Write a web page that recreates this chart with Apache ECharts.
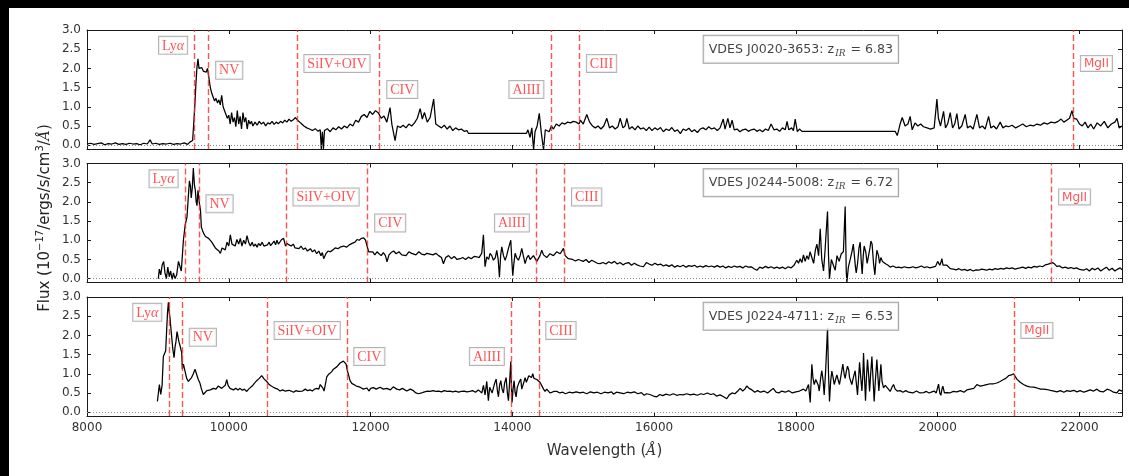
<!DOCTYPE html>
<html><head><meta charset="utf-8">
<script src="https://cdn.jsdelivr.net/npm/echarts@6/dist/echarts.min.js"></script>
<style>html,body{margin:0;padding:0;background:#fff;overflow:hidden;width:1129px;height:476px}#c{position:absolute;left:0;top:0;width:1129px;height:476px;background:#fff}</style>
</head><body><div id="c"></div><script>
// ---------------- DATA ----------------
const objectNames = ['VDES J0020-3653', 'VDES J0244-5008', 'VDES J0224-4711'];
const redshifts = [6.83, 6.72, 6.53];
const lineNames = ['Lyα', 'NV', 'SiIV+OIV', 'CIV', 'AlIII', 'CIII', 'MgII'];
const restWaves = [1215.67, 1240.81, 1399.8, 1549.06, 1857.4, 1908.73, 2798.75];
const xTicks = [8000, 10000, 12000, 14000, 16000, 18000, 20000, 22000];
const yTicks = [0, 0.5, 1.0, 1.5, 2.0, 2.5, 3.0];

// spectrum of VDES J0020-3653 [wavelength, flux]
const spec1 = [[8000,0.03],[8050,0.05],[8100,0.02],[8150,0.04],[8200,0.06],[8250,0.01],[8300,0.04],[8350,0.03],[8400,0.06],[8450,0.02],[8500,0.04],[8550,0.02],[8600,0.05],[8650,0.03],[8700,0.04],[8750,0.01],[8800,0.05],[8850,0.03],[8890,0.14],[8920,0.03],[8970,0.05],[9020,0.02],[9070,0.04],[9120,0.03],[9170,0.05],[9220,0.02],[9270,0.04],[9320,0.03],[9370,0.06],[9420,0.02],[9450,0.08],[9475,0.03],[9490,0.12],[9505,0.55],[9520,1.0],[9535,1.55],[9550,2.0],[9565,2.25],[9580,2.0],[9600,1.95],[9620,2.02],[9640,1.93],[9660,1.98],[9680,1.9],[9700,2.0],[9720,1.75],[9740,1.5],[9760,1.35],[9780,1.25],[9800,1.15],[9820,1.22],[9840,1.1],[9860,1.18],[9880,1.05],[9900,1.3],[9920,1.0],[9940,0.95],[9960,0.8],[9980,0.7],[10000,0.78],[10020,0.55],[10040,0.85],[10060,0.6],[10080,0.72],[10100,0.48],[10120,0.9],[10140,0.55],[10160,0.75],[10180,0.42],[10200,0.85],[10220,0.6],[10240,0.72],[10260,0.42],[10280,0.65],[10300,0.55],[10320,0.62],[10340,0.5],[10370,0.6],[10400,0.52],[10430,0.62],[10460,0.55],[10490,0.6],[10520,0.5],[10550,0.58],[10580,0.55],[10610,0.62],[10640,0.54],[10670,0.6],[10700,0.56],[10730,0.62],[10760,0.58],[10790,0.65],[10820,0.6],[10850,0.68],[10880,0.62],[10910,0.66],[10940,0.72],[10970,0.65],[11000,0.6],[11030,0.55],[11060,0.5],[11100,0.45],[11140,0.42],[11180,0.38],[11220,0.43],[11260,0.36],[11290,0.4],[11305,-0.1],[11320,0.35],[11335,-0.1],[11350,0.38],[11390,0.43],[11430,0.35],[11470,0.45],[11510,0.4],[11550,0.48],[11590,0.42],[11630,0.5],[11670,0.45],[11710,0.55],[11750,0.5],[11790,0.65],[11830,0.6],[11870,0.75],[11910,0.8],[11950,0.72],[11990,0.88],[12030,0.8],[12070,0.9],[12110,0.84],[12150,0.7],[12190,0.76],[12230,0.6],[12275,0.98],[12300,0.55],[12346,0.12],[12380,0.5],[12420,0.46],[12460,0.52],[12500,0.45],[12540,0.55],[12580,0.5],[12620,0.58],[12660,0.7],[12700,0.95],[12730,0.68],[12760,0.85],[12800,0.6],[12840,0.72],[12890,1.2],[12920,0.55],[12960,0.5],[13000,0.45],[13040,0.52],[13080,0.42],[13120,0.5],[13160,0.38],[13200,0.45],[13240,0.4],[13280,0.42],[13320,0.36],[13360,0.38],[13380,0.31],[14200,0.31],[14220,0.4],[14250,0.2],[14275,0.45],[14300,-0.12],[14320,0.35],[14350,0.5],[14380,0.83],[14410,0.3],[14440,-0.12],[14465,0.4],[14490,0.45],[14520,0.35],[14550,0.5],[14580,0.42],[14620,0.55],[14660,0.5],[14700,0.58],[14740,0.55],[14780,0.6],[14820,0.58],[14860,0.62],[14900,0.6],[14940,0.55],[14960,0.65],[15000,0.55],[15050,0.8],[15090,0.6],[15130,0.5],[15170,0.45],[15210,0.5],[15250,0.42],[15290,0.5],[15333,0.7],[15370,0.45],[15410,0.5],[15450,0.42],[15490,0.48],[15521,0.7],[15560,0.45],[15590,0.5],[15615,0.7],[15650,0.42],[15690,0.48],[15730,0.4],[15770,0.5],[15810,0.42],[15850,0.45],[15890,0.38],[15930,0.47],[15970,0.38],[16010,0.45],[16050,0.4],[16090,0.46],[16130,0.35],[16170,0.42],[16210,0.38],[16250,0.46],[16290,0.36],[16330,0.4],[16370,0.3],[16410,0.42],[16450,0.38],[16490,0.44],[16530,0.35],[16570,0.4],[16610,0.33],[16650,0.42],[16690,0.45],[16730,0.4],[16770,0.48],[16810,0.42],[16850,0.45],[16890,0.38],[16930,0.45],[16975,0.68],[17000,0.42],[17040,0.7],[17070,0.45],[17100,0.65],[17130,0.4],[17170,0.42],[17210,0.35],[17250,0.4],[17290,0.42],[17330,0.36],[17370,0.4],[17410,0.42],[17450,0.36],[17490,0.4],[17530,0.35],[17570,0.42],[17610,0.38],[17650,0.55],[17690,0.4],[17730,0.42],[17770,0.36],[17810,0.45],[17850,0.4],[17875,0.62],[17900,0.4],[17940,0.45],[17965,0.38],[17990,0.68],[18020,0.35],[18050,0.42],[18085,0.36],[19400,0.36],[19430,0.25],[19470,0.55],[19500,0.72],[19540,0.5],[19580,0.55],[19612,0.75],[19640,0.4],[19680,0.58],[19720,0.5],[19760,0.55],[19800,0.48],[19850,0.45],[19900,0.42],[19950,0.45],[19989,1.2],[20010,0.7],[20040,0.5],[20083,0.88],[20110,0.45],[20140,0.55],[20177,0.85],[20210,0.45],[20240,0.55],[20271,0.82],[20300,0.42],[20340,0.5],[20388,0.8],[20420,0.45],[20460,0.5],[20500,0.42],[20553,0.8],[20590,0.45],[20630,0.5],[20670,0.42],[20718,0.75],[20750,0.45],[20790,0.5],[20830,0.42],[20882,0.6],[20920,0.45],[20960,0.5],[21000,0.48],[21050,0.52],[21100,0.45],[21150,0.5],[21200,0.55],[21250,0.48],[21300,0.52],[21350,0.5],[21400,0.55],[21450,0.52],[21500,0.58],[21550,0.55],[21600,0.6],[21650,0.58],[21700,0.62],[21740,0.68],[21780,0.6],[21820,0.65],[21860,0.7],[21894,0.9],[21920,0.7],[21960,0.68],[22000,0.55],[22040,0.5],[22080,0.6],[22120,0.45],[22160,0.55],[22200,0.42],[22250,0.58],[22300,0.5],[22350,0.62],[22400,0.45],[22450,0.55],[22500,0.6],[22530,0.7],[22560,0.45],[22600,0.5]];

// spectrum of VDES J0244-5008
const spec2 = [[9006,0.0],[9020,0.25],[9040,0.1],[9060,0.35],[9081,0.45],[9100,0.15],[9120,0.0],[9140,0.3],[9160,0.05],[9180,0.2],[9200,-0.02],[9220,0.15],[9240,0.0],[9265,0.1],[9290,0.45],[9310,0.5],[9330,0.2],[9345,0.6],[9360,1.0],[9385,1.4],[9410,1.6],[9430,2.15],[9445,2.55],[9460,2.4],[9470,2.1],[9485,2.35],[9500,2.88],[9515,2.45],[9528,2.3],[9540,2.0],[9552,1.9],[9565,2.3],[9578,2.32],[9590,1.9],[9600,1.8],[9613,1.35],[9630,1.25],[9646,1.18],[9670,1.1],[9690,1.15],[9716,1.05],[9740,1.0],[9760,0.95],[9787,0.95],[9810,0.8],[9834,0.8],[9860,0.72],[9881,0.66],[9905,0.8],[9928,0.85],[9950,0.75],[9975,0.95],[10000,0.85],[10022,1.14],[10045,0.9],[10069,0.95],[10090,0.85],[10115,1.02],[10140,0.9],[10163,1.05],[10185,0.85],[10210,1.0],[10235,0.9],[10257,1.12],[10280,0.95],[10305,0.85],[10330,0.95],[10351,0.84],[10375,0.9],[10400,0.82],[10420,0.92],[10445,0.86],[10470,0.95],[10495,0.85],[10520,0.9],[10545,0.88],[10570,0.95],[10590,0.86],[10615,0.92],[10640,0.98],[10660,0.88],[10680,1.0],[10700,0.9],[10720,0.95],[10745,1.02],[10774,1.05],[10800,0.85],[10821,0.92],[10850,0.88],[10880,0.85],[10910,0.9],[10935,0.8],[10962,0.83],[10990,0.78],[11020,0.85],[11050,0.76],[11080,0.8],[11110,0.72],[11151,0.78],[11180,0.7],[11210,0.75],[11240,0.65],[11270,0.72],[11300,0.6],[11320,0.68],[11339,0.52],[11370,0.65],[11400,0.72],[11433,0.7],[11470,0.75],[11500,0.8],[11540,0.78],[11580,0.83],[11621,0.85],[11660,0.82],[11700,0.88],[11740,0.92],[11780,0.95],[11809,1.02],[11840,1.0],[11870,1.05],[11903,1.06],[11930,1.0],[11950,0.85],[11975,0.7],[11997,0.66],[12030,0.7],[12060,0.62],[12091,0.7],[12120,0.65],[12150,0.6],[12180,0.68],[12210,0.6],[12232,0.44],[12260,0.62],[12290,0.68],[12326,0.72],[12360,0.65],[12400,0.7],[12440,0.62],[12468,0.66],[12500,0.6],[12540,0.7],[12580,0.66],[12608,0.68],[12640,0.62],[12680,0.7],[12720,0.64],[12760,0.62],[12797,0.66],[12839,0.64],[12880,0.62],[12920,0.66],[12960,0.6],[13000,0.55],[13028,0.39],[13060,0.55],[13100,0.6],[13140,0.52],[13180,0.58],[13220,0.5],[13263,0.52],[13300,0.55],[13340,0.5],[13380,0.56],[13420,0.52],[13460,0.58],[13498,0.57],[13530,0.55],[13568,0.66],[13592,1.14],[13615,0.31],[13639,0.57],[13665,0.5],[13686,0.66],[13710,0.6],[13733,0.48],[13760,0.55],[13780,0.74],[13800,0.5],[13818,0.04],[13835,0.6],[13851,0.83],[13875,0.6],[13898,0.48],[13920,0.6],[13945,0.79],[13960,0.75],[13978,1.0],[13992,0.5],[14006,0.08],[14022,0.4],[14039,0.66],[14060,0.55],[14086,0.48],[14110,0.6],[14133,0.79],[14155,0.6],[14180,0.39],[14205,0.55],[14227,0.61],[14250,0.5],[14274,0.48],[14298,0.6],[14321,0.57],[14345,0.45],[14368,0.44],[14390,0.6],[14415,0.74],[14440,0.62],[14462,0.61],[14485,0.55],[14509,0.53],[14530,0.65],[14556,0.7],[14580,0.6],[14603,0.57],[14625,0.7],[14650,0.74],[14675,0.65],[14697,0.7],[14721,0.79],[14745,0.6],[14768,0.57],[14790,0.52],[14815,0.49],[14850,0.5],[14890,0.46],[14930,0.5],[14960,0.48],[15000,0.45],[15040,0.5],[15080,0.42],[15120,0.48],[15160,0.44],[15200,0.4],[15238,0.39],[15280,0.42],[15320,0.38],[15360,0.44],[15400,0.4],[15440,0.45],[15480,0.38],[15520,0.42],[15560,0.36],[15600,0.4],[15640,0.42],[15680,0.35],[15720,0.4],[15760,0.36],[15800,0.33],[15849,0.31],[15890,0.42],[15930,0.38],[15970,0.35],[16010,0.4],[16050,0.36],[16090,0.38],[16130,0.33],[16170,0.36],[16210,0.32],[16250,0.36],[16290,0.3],[16330,0.34],[16367,0.31],[16410,0.35],[16450,0.3],[16490,0.34],[16530,0.32],[16570,0.35],[16610,0.3],[16650,0.33],[16690,0.3],[16730,0.34],[16770,0.31],[16810,0.33],[16850,0.3],[16890,0.34],[16930,0.3],[16970,0.33],[17010,0.28],[17050,0.32],[17090,0.29],[17130,0.33],[17170,0.3],[17210,0.32],[17250,0.28],[17290,0.33],[17330,0.3],[17370,0.31],[17410,0.26],[17450,0.22],[17490,0.3],[17530,0.27],[17570,0.32],[17610,0.28],[17650,0.31],[17690,0.27],[17730,0.3],[17770,0.27],[17810,0.3],[17850,0.26],[17890,0.31],[17930,0.28],[17970,0.34],[18013,0.48],[18037,0.4],[18060,0.52],[18084,0.42],[18107,0.62],[18130,0.45],[18155,0.6],[18178,0.5],[18200,0.7],[18225,0.66],[18250,0.4],[18275,0.75],[18296,0.9],[18320,0.6],[18343,1.3],[18365,0.5],[18390,0.2],[18410,0.7],[18430,1.3],[18446,1.75],[18460,0.6],[18474,0.0],[18500,0.5],[18525,0.55],[18554,0.22],[18580,0.6],[18610,0.45],[18640,0.65],[18670,0.7],[18695,1.88],[18710,0.2],[18719,-0.1],[18740,0.3],[18766,0.5],[18790,0.7],[18810,0.9],[18822,0.85],[18840,0.3],[18851,0.15],[18870,0.4],[18890,0.8],[18907,0.95],[18920,0.5],[18935,0.12],[18950,0.6],[18963,0.85],[18985,0.7],[19005,0.4],[19025,0.35],[19045,0.8],[19058,0.98],[19075,0.9],[19095,0.4],[19114,0.1],[19130,0.5],[19142,0.74],[19165,0.6],[19180,0.4],[19199,0.55],[19220,0.45],[19245,0.48],[19270,0.38],[19300,0.35],[19330,0.3],[19370,0.33],[19410,0.29],[19450,0.3],[19490,0.28],[19530,0.31],[19570,0.29],[19612,0.29],[19650,0.31],[19690,0.28],[19730,0.3],[19770,0.33],[19810,0.29],[19850,0.31],[19890,0.28],[19930,0.3],[19970,0.32],[20000,0.45],[20012,0.48],[20030,0.35],[20045,0.42],[20059,0.52],[20075,0.35],[20100,0.32],[20130,0.35],[20177,0.26],[20220,0.25],[20260,0.23],[20300,0.26],[20340,0.22],[20380,0.24],[20420,0.21],[20460,0.24],[20500,0.2],[20540,0.23],[20580,0.22],[20620,0.25],[20647,0.23],[20690,0.22],[20730,0.25],[20770,0.23],[20810,0.26],[20850,0.24],[20890,0.27],[20930,0.25],[20970,0.28],[21010,0.26],[21050,0.28],[21090,0.25],[21117,0.3],[21160,0.28],[21200,0.3],[21240,0.27],[21280,0.3],[21320,0.28],[21360,0.32],[21400,0.3],[21440,0.33],[21480,0.31],[21520,0.36],[21560,0.38],[21588,0.39],[21620,0.42],[21650,0.38],[21680,0.32],[21720,0.33],[21760,0.28],[21800,0.3],[21840,0.27],[21880,0.29],[21920,0.26],[21960,0.28],[22000,0.24],[22058,0.22],[22100,0.26],[22140,0.2],[22180,0.27],[22220,0.23],[22260,0.28],[22300,0.2],[22340,0.25],[22380,0.3],[22420,0.22],[22460,0.27],[22500,0.2],[22540,0.25],[22575,0.28],[22600,0.23]];

// spectrum of VDES J0224-4711
const spec3 = [[8993,0.28],[9007,0.5],[9021,0.72],[9040,0.46],[9059,0.7],[9077,1.45],[9095,1.5],[9110,1.6],[9124,2.15],[9136,2.6],[9148,2.86],[9160,2.6],[9171,2.45],[9183,2.2],[9195,1.95],[9210,1.65],[9228,1.42],[9242,1.7],[9256,1.85],[9270,2.1],[9280,2.05],[9295,1.85],[9310,1.75],[9322,1.78],[9336,1.55],[9345,1.12],[9360,1.25],[9383,1.2],[9406,0.88],[9430,0.8],[9453,0.75],[9475,0.9],[9500,1.0],[9524,1.12],[9547,0.98],[9570,0.85],[9594,0.75],[9615,0.6],[9641,0.46],[9665,0.5],[9690,0.56],[9712,0.6],[9740,0.58],[9783,0.62],[9820,0.6],[9850,0.68],[9877,0.72],[9900,0.62],[9924,0.65],[9950,0.7],[9971,0.85],[9990,0.7],[10018,0.62],[10040,0.66],[10065,0.58],[10100,0.62],[10130,0.58],[10159,0.62],[10190,0.57],[10220,0.6],[10253,0.54],[10280,0.6],[10300,0.64],[10330,0.68],[10360,0.75],[10394,0.82],[10430,0.88],[10465,0.95],[10500,0.86],[10535,0.8],[10570,0.72],[10600,0.68],[10629,0.65],[10660,0.62],[10690,0.6],[10723,0.55],[10760,0.58],[10790,0.55],[10817,0.6],[10850,0.57],[10880,0.55],[10912,0.52],[10950,0.56],[10980,0.54],[11006,0.58],[11040,0.55],[11080,0.6],[11110,0.56],[11147,0.58],[11180,0.55],[11210,0.6],[11241,0.62],[11270,0.6],[11290,0.72],[11311,0.7],[11330,0.62],[11344,0.55],[11360,0.7],[11382,0.92],[11405,0.98],[11429,1.0],[11450,1.05],[11476,1.12],[11500,1.1],[11523,1.18],[11545,1.15],[11570,1.28],[11595,1.25],[11617,1.33],[11640,1.3],[11655,1.25],[11670,1.1],[11688,0.98],[11711,0.82],[11735,0.75],[11758,0.72],[11800,0.68],[11852,0.65],[11900,0.6],[11946,0.63],[11980,0.55],[12000,0.62],[12040,0.64],[12080,0.6],[12134,0.65],[12180,0.6],[12228,0.62],[12280,0.58],[12320,0.66],[12369,0.6],[12410,0.58],[12450,0.62],[12510,0.55],[12560,0.6],[12604,0.56],[12640,0.5],[12675,0.48],[12698,0.43],[12720,0.5],[12750,0.52],[12800,0.55],[12840,0.54],[12880,0.56],[12920,0.54],[12960,0.55],[13000,0.53],[13040,0.56],[13080,0.54],[13120,0.55],[13160,0.53],[13200,0.55],[13240,0.52],[13280,0.54],[13320,0.55],[13360,0.53],[13400,0.54],[13440,0.56],[13480,0.52],[13520,0.58],[13545,0.6],[13570,0.5],[13592,0.7],[13615,0.45],[13639,0.8],[13662,0.3],[13680,0.65],[13695,0.7],[13715,0.5],[13733,0.52],[13750,0.75],[13771,0.86],[13790,0.55],[13804,0.4],[13820,0.7],[13837,0.82],[13855,0.6],[13874,0.5],[13890,0.75],[13912,0.9],[13930,0.5],[13945,0.3],[13962,0.8],[13978,1.32],[13988,0.6],[13996,0.25],[14010,0.6],[14025,0.82],[14040,0.5],[14053,0.4],[14070,0.65],[14086,0.73],[14100,0.8],[14119,0.86],[14133,0.6],[14147,0.55],[14165,0.8],[14180,0.9],[14198,0.78],[14213,0.8],[14232,0.95],[14250,0.95],[14270,0.9],[14288,1.0],[14305,0.88],[14321,0.92],[14345,0.85],[14368,0.82],[14390,0.78],[14415,0.73],[14440,0.6],[14462,0.54],[14485,0.6],[14509,0.64],[14530,0.5],[14556,0.45],[14590,0.54],[14627,0.54],[14670,0.5],[14710,0.52],[14750,0.48],[14800,0.52],[14850,0.5],[14900,0.53],[14956,0.5],[15000,0.52],[15050,0.48],[15100,0.53],[15150,0.5],[15200,0.52],[15250,0.48],[15300,0.52],[15350,0.5],[15400,0.53],[15426,0.47],[15470,0.52],[15520,0.5],[15570,0.48],[15620,0.52],[15670,0.5],[15720,0.53],[15770,0.48],[15820,0.51],[15860,0.44],[15896,0.48],[15940,0.46],[15990,0.42],[16037,0.4],[16080,0.46],[16120,0.43],[16170,0.47],[16220,0.44],[16270,0.48],[16320,0.44],[16367,0.46],[16410,0.45],[16460,0.48],[16510,0.45],[16560,0.47],[16610,0.44],[16660,0.48],[16700,0.46],[16750,0.5],[16800,0.46],[16837,0.48],[16880,0.42],[16930,0.45],[16980,0.4],[17025,0.35],[17060,0.45],[17100,0.5],[17140,0.48],[17180,0.55],[17213,0.62],[17250,0.55],[17280,0.6],[17307,0.68],[17340,0.62],[17380,0.58],[17420,0.52],[17460,0.56],[17500,0.52],[17550,0.55],[17600,0.5],[17640,0.56],[17680,0.62],[17720,0.52],[17760,0.5],[17800,0.55],[17850,0.52],[17900,0.56],[17950,0.5],[18000,0.53],[18050,0.55],[18107,0.6],[18140,0.55],[18178,0.72],[18202,0.25],[18225,1.25],[18240,0.9],[18258,0.72],[18280,0.85],[18296,0.9],[18315,0.7],[18329,0.55],[18350,0.9],[18366,1.08],[18385,0.8],[18399,0.45],[18420,1.1],[18446,2.2],[18460,1.0],[18474,0.28],[18490,0.8],[18507,1.07],[18525,0.9],[18540,0.72],[18560,0.85],[18578,0.97],[18595,0.85],[18615,0.72],[18640,1.0],[18662,1.25],[18680,1.0],[18695,0.88],[18710,1.05],[18728,1.2],[18745,1.1],[18757,0.9],[18775,0.8],[18789,0.72],[18810,0.9],[18836,1.08],[18850,0.8],[18869,0.45],[18885,0.9],[18898,1.3],[18915,0.9],[18931,0.55],[18945,1.0],[18954,1.54],[18970,0.8],[18982,0.3],[18995,0.9],[19010,1.37],[19025,1.0],[19039,0.54],[19055,1.0],[19072,1.45],[19090,0.8],[19104,0.28],[19120,0.8],[19142,1.37],[19158,0.9],[19170,0.55],[19185,0.9],[19199,1.25],[19215,0.8],[19236,0.63],[19260,0.7],[19283,0.72],[19305,0.6],[19330,0.54],[19355,0.65],[19377,0.72],[19400,0.6],[19430,0.55],[19471,0.56],[19510,0.52],[19550,0.56],[19590,0.52],[19612,0.54],[19650,0.5],[19700,0.55],[19750,0.5],[19801,0.51],[19840,0.54],[19880,0.5],[19918,0.53],[19950,0.55],[19980,0.5],[20012,0.73],[20030,0.5],[20045,0.44],[20060,0.6],[20073,0.68],[20095,0.5],[20130,0.51],[20170,0.5],[20220,0.54],[20271,0.53],[20320,0.56],[20370,0.52],[20412,0.58],[20460,0.6],[20510,0.62],[20553,0.72],[20600,0.68],[20647,0.7],[20690,0.72],[20741,0.74],[20790,0.74],[20835,0.76],[20880,0.8],[20929,0.85],[20960,0.88],[21000,0.95],[21040,0.97],[21070,1.0],[21095,0.95],[21117,0.86],[21140,0.82],[21164,0.78],[21210,0.72],[21259,0.68],[21300,0.66],[21350,0.65],[21400,0.63],[21450,0.6],[21500,0.6],[21541,0.59],[21590,0.57],[21640,0.55],[21682,0.53],[21730,0.56],[21780,0.52],[21823,0.56],[21870,0.54],[21920,0.57],[21964,0.53],[22010,0.56],[22060,0.52],[22105,0.55],[22150,0.58],[22200,0.55],[22246,0.6],[22290,0.54],[22340,0.53],[22390,0.6],[22434,0.57],[22480,0.52],[22528,0.5],[22560,0.58],[22600,0.55]];

const spectra = [spec1, spec2, spec3];

// ---------------- LAYOUT ----------------
const gridTops = [30, 163.5, 297];
const gridH = 119;
const labelSide = ['left', 'right', 'right', 'right', 'left', 'right', 'right'];
const labelLevel = [2.6, 1.95, 2.13, 1.45, 1.45, 2.13, 2.13];
const infoAnchor = [16692, 2.5];
const RED = '#ff2a2a';

function lineLabel(n) {
  if (n === 'Lyα') return '{r|Ly}{ra|α}';
  if (n === 'MgII') return '{s|MgII}';
  return '{r|' + n + '}';
}

const grids = [], xAxes = [], yAxes = [], series = [];
for (let i = 0; i < 3; i++) {
  grids.push({ left: 87, right: 7, top: gridTops[i], height: gridH });
  const axLine = { show: true, onZero: false, lineStyle: { color: '#1a1a1a', width: 1 } };
  const xBase = {
    gridIndex: i, type: 'value', min: 8000, max: 22600, splitLine: { show: false },
    axisLine: axLine,
    axisTick: { show: true, inside: true, length: 4, customValues: xTicks, lineStyle: { color: '#1a1a1a' } }
  };
  xAxes.push(Object.assign({}, xBase, {
    position: 'bottom',
    axisLabel: i === 2 ? { show: true, customValues: xTicks, formatter: v => String(Math.round(v)), fontFamily: 'DejaVu Sans', fontSize: 12, color: '#333', margin: 6 } : { show: false },
    name: i === 2 ? 'Wavelength ({it|Å})' : '',
    nameLocation: 'middle', nameGap: 28,
    nameTextStyle: { fontFamily: 'DejaVu Sans', fontSize: 15, color: '#333', rich: { it: { fontFamily: 'DejaVu Serif', fontStyle: 'italic', fontSize: 14, color: '#333' } } }
  }));
  xAxes.push(Object.assign({}, xBase, { position: 'top', axisLabel: { show: false } }));
  const yBase = {
    gridIndex: i, type: 'value', min: -0.1, max: 3.0, splitLine: { show: false },
    axisLine: axLine,
    axisTick: { show: true, inside: true, length: 4, customValues: yTicks, lineStyle: { color: '#1a1a1a' } }
  };
  yAxes.push(Object.assign({}, yBase, {
    position: 'left',
    axisLabel: { show: true, customValues: yTicks, formatter: v => Number(v).toFixed(1), fontFamily: 'DejaVu Sans', fontSize: 12, color: '#333', margin: 6 }
  }));
  yAxes.push(Object.assign({}, yBase, { position: 'right', axisLabel: { show: false } }));

  const z1 = 1 + redshifts[i];
  series.push({
    type: 'line', xAxisIndex: 2 * i, yAxisIndex: 2 * i, data: spectra[i],
    showSymbol: false, symbol: 'none', z: 3,
    lineStyle: { color: '#000', width: 1.25 },
    markLine: {
      silent: true, symbol: ['none', 'none'], label: { show: false }, animation: false,
      lineStyle: { type: [6, 3], color: 'rgba(255,40,40,0.8)', width: 1.4 },
      data: restWaves.map(r => ({ xAxis: r * z1 })).concat([
        { yAxis: 0, lineStyle: { type: [1, 2], color: '#888', width: 1 } }
      ])
    }
  });
  series.push({
    type: 'scatter', xAxisIndex: 2 * i, yAxisIndex: 2 * i, symbolSize: 1, silent: true, z: 10,
    itemStyle: { color: 'transparent' },
    data: lineNames.map((n, j) => ({
      value: [restWaves[j] * z1, labelLevel[j]],
      label: {
        show: true, position: labelSide[j], distance: 7, formatter: lineLabel(n),
        backgroundColor: '#fff', borderColor: '#a0a0a0', borderWidth: 1, padding: [2, 3, 1, 3],
        rich: {
          r: { fontFamily: 'Liberation Serif', fontSize: 14, color: RED },
          ra: { fontFamily: 'Liberation Serif', fontStyle: 'italic', fontSize: 14, color: RED },
          s: { fontFamily: 'DejaVu Sans', fontSize: 12, color: RED }
        }
      }
    }))
  });
  series.push({
    type: 'scatter', xAxisIndex: 2 * i, yAxisIndex: 2 * i, symbolSize: 1, silent: true, z: 11,
    itemStyle: { color: 'transparent' },
    data: [{
      value: infoAnchor,
      label: {
        show: true, position: 'right', distance: 0,
        formatter: objectNames[i] + ': z{sub|IR} = ' + redshifts[i].toFixed(2),
        fontFamily: 'DejaVu Sans', fontSize: 12.6, color: '#111',
        backgroundColor: '#fff', borderColor: '#888', borderWidth: 1, padding: [6, 5, 5, 5],
        rich: { sub: { fontFamily: 'DejaVu Serif', fontStyle: 'italic', fontSize: 9, color: '#111', padding: [7, 1, 0, 1] } }
      }
    }]
  });
}

const chart = echarts.init(document.getElementById('c'), null, { renderer: 'canvas', width: 1129, height: 476 });
chart.setOption({
  animation: false,
  backgroundColor: '#fff',
  grid: grids, xAxis: xAxes, yAxis: yAxes, series: series,
  graphic: [
    { type: 'rect', shape: { x: 0, y: 0, width: 1129, height: 8 }, style: { fill: '#000' }, silent: true },
    { type: 'rect', shape: { x: 0, y: 0, width: 9, height: 476 }, style: { fill: '#000' }, silent: true },
    { type: 'rect', shape: { x: 1123, y: 8, width: 6, height: 468 }, style: { fill: '#fff' }, silent: true, z: -10 },
    {
      type: 'text', x: 45, y: 218, rotation: Math.PI / 2, silent: true,
      style: {
        text: 'Flux (10{sup|−17}/ergs/s/cm{sup|3}/{it|Å})',
        fontFamily: 'DejaVu Sans', fontSize: 15, fill: '#222', align: 'center', verticalAlign: 'middle',
        rich: {
          sup: { fontFamily: 'DejaVu Sans', fontSize: 10, fill: '#222', padding: [0, 0, 9, 0] },
          it: { fontFamily: 'DejaVu Serif', fontStyle: 'italic', fontSize: 14, fill: '#222' }
        }
      }
    }
  ]
});
</script></body></html>
